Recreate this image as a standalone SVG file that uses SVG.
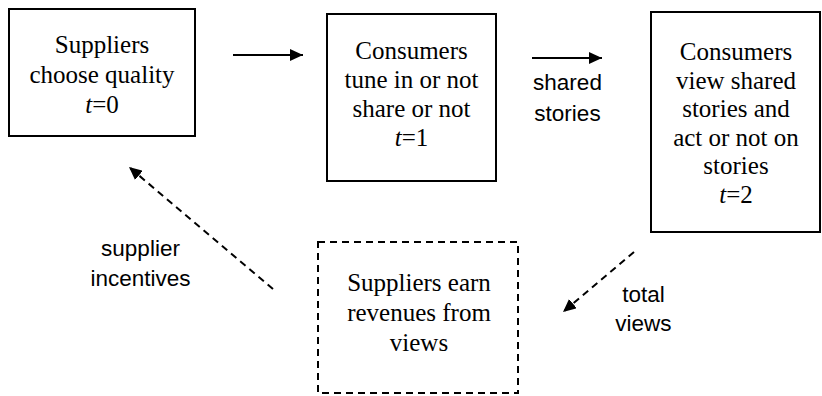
<svg xmlns="http://www.w3.org/2000/svg" width="822" height="396" viewBox="0 0 822 396">
<style>
.box{fill:#fff;stroke:#000;stroke-width:2}
.dbox{fill:none;stroke:#000;stroke-width:2;stroke-dasharray:7 5}
.serif{font-family:"Liberation Serif","Times New Roman",serif;font-size:25px;fill:#000;text-anchor:middle}
.sans{font-family:"Liberation Sans",Arial,sans-serif;font-size:22.5px;fill:#000;text-anchor:middle}
.conn{stroke:#000;stroke-width:2;fill:none}
.dash{stroke-dasharray:7 5}
</style>
<defs>
<marker id="ah" markerUnits="userSpaceOnUse" markerWidth="14" markerHeight="12" refX="13" refY="6" orient="auto">
<path d="M0,0 L13,6 L0,12 Z" fill="#000"/>
</marker>
</defs>
<rect width="822" height="396" fill="#fff"/>
<g id="connectors">
<line class="conn" x1="233" y1="55" x2="303" y2="55" marker-end="url(#ah)"/>
<line class="conn" x1="532" y1="58" x2="602" y2="58" marker-end="url(#ah)"/>
<line class="conn dash" x1="273" y1="289" x2="129" y2="167" marker-end="url(#ah)"/>
<line class="conn dash" x1="634" y1="252" x2="563" y2="312" marker-end="url(#ah)"/>
<g id="label-shared-stories">
<text class="sans" x="567.5" y="90">shared</text>
<text class="sans" x="567.5" y="120.5">stories</text>
</g>
<g id="label-supplier-incentives">
<text class="sans" x="140.5" y="256">supplier</text>
<text class="sans" x="140.5" y="286">incentives</text>
</g>
<g id="label-total-views">
<text class="sans" x="643.5" y="302">total</text>
<text class="sans" x="643.5" y="331">views</text>
</g>
</g>
<g id="node-suppliers-choose">
<rect class="box" x="9" y="9" width="186" height="127"/>
<text class="serif" x="102" y="53">Suppliers</text>
<text class="serif" x="102" y="83">choose quality</text>
<text class="serif" x="102" y="113"><tspan font-style="italic">t</tspan>=0</text>
</g>
<g id="node-consumers-tune">
<rect class="box" x="327" y="14" width="169" height="167"/>
<text class="serif" x="411.5" y="59">Consumers</text>
<text class="serif" x="411.5" y="88">tune in or not</text>
<text class="serif" x="411.5" y="117">share or not</text>
<text class="serif" x="411.5" y="146"><tspan font-style="italic">t</tspan>=1</text>
</g>
<g id="node-consumers-view">
<rect class="box" x="651" y="12" width="169" height="220"/>
<text class="serif" x="736" y="60">Consumers</text>
<text class="serif" x="736" y="88.5">view shared</text>
<text class="serif" x="736" y="117">stories and</text>
<text class="serif" x="736" y="145.5">act or not on</text>
<text class="serif" x="736" y="174">stories</text>
<text class="serif" x="736" y="202.5"><tspan font-style="italic">t</tspan>=2</text>
</g>
<g id="node-suppliers-earn">
<rect class="dbox" x="318" y="242" width="200" height="151"/>
<text class="serif" x="419" y="291">Suppliers earn</text>
<text class="serif" x="419" y="321">revenues from</text>
<text class="serif" x="419" y="351">views</text>
</g>
</svg>
